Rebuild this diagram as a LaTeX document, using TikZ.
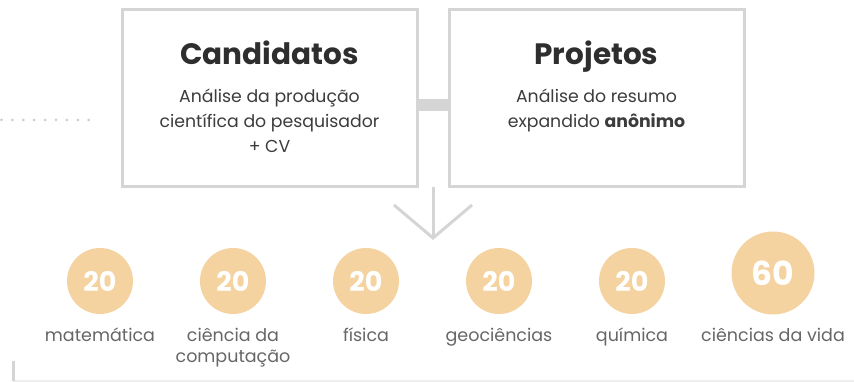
\documentclass[tikz,border=0pt]{standalone}
\usepackage{fontspec}
\setmainfont{Poppins}
\definecolor{linegray}{HTML}{D5D5D5}
\definecolor{dotgray}{HTML}{CCCCCC}
\definecolor{peach}{HTML}{F5D3A0}
\definecolor{titlecol}{HTML}{2E2E2E}
\definecolor{bodycol}{HTML}{3C3C3C}
\definecolor{labelcol}{HTML}{666666}
\definecolor{faint}{HTML}{EEEEEE}
\begin{document}
\begin{tikzpicture}[x=1pt,y=-1pt,
  panel/.style={draw=linegray,line width=3pt,fill=white,minimum width=295pt,minimum height=177pt,inner sep=0pt},
  ttl/.style={font=\fontsize{29.5}{32}\selectfont\bfseries,text=titlecol,inner sep=0pt,anchor=base},
  bodytxt/.style={font=\fontsize{17.3}{25}\selectfont,text=bodycol,align=center,inner sep=0pt,anchor=north},
  num/.style={circle,fill=peach,minimum size=66pt,inner sep=0pt,text=white,font=\fontsize{27}{28}\selectfont\bfseries},
  bignum/.style={circle,fill=peach,minimum size=83pt,inner sep=0pt,text=white,font=\fontsize{33}{34}\selectfont\bfseries},
  lbl/.style={font=\fontsize{17.5}{21.5}\selectfont,text=labelcol,align=center,inner sep=0pt,anchor=north},
  conn/.style={draw=linegray,line width=3pt},
  dot/.style={circle,fill=dotgray,minimum size=3pt,inner sep=0pt}
]
\useasboundingbox (0,0) rectangle (854,382);
% dotted lead-in
\foreach \i in {0,...,8} {
  \node[dot] (d\i) at ({1.5+10.9*\i},120) {};
}
% panels
\node[panel] (cand) at (269.5,98.5) {};
\node[panel] (proj) at (596.5,98.5) {};
% connector bar
\fill[linegray] (cand.east |- 0,99) rectangle (proj.west |- 0,111);
% titles and texts
\node[ttl] (t1) at (269.5,65) {Candidatos};
\node[bodytxt] (b1) at (269.5,89) {Análise da produção\\científica do pesquisador\\+ CV};
\node[ttl] (t2) at (596.5,65) {Projetos};
\node[bodytxt] (b2) at (596.5,89) {Análise do resumo\\expandido \textbf{anônimo}};
% arrow
\coordinate (apex) at (433,238);
\coordinate (vl) at (394,205);
\coordinate (vr) at (472,205);
\draw[conn] (433,187) -- (apex);
\draw[conn,line join=miter] (vl) -- (apex) -- (vr);
% circles
\node[num] (c1) at (100,281) {20};
\node[num] (c2) at (233,281) {20};
\node[num] (c3) at (366,281) {20};
\node[num] (c4) at (499,281) {20};
\node[num] (c5) at (632,281) {20};
\node[bignum] (c6) at (773,273) {60};
% labels
\node[lbl] (l1) at (100,327.5) {matemática};
\node[lbl] (l2) at (233,327.5) {ciência da\\computação};
\node[lbl] (l3) at (366,327.5) {física};
\node[lbl] (l4) at (499,327.5) {geociências};
\node[lbl] (l5) at (632,327.5) {química};
\node[lbl] (l6) at (773,327.5) {ciências da vida};
% bottom frame
\coordinate (bl) at (13,381);
\coordinate (br) at (854,381);
\coordinate (bt) at (13,361);
\draw[faint,line width=1.5pt] (bl) -- (br);
\draw[draw=linegray,line width=3pt] (bt) -- (bl);
\end{tikzpicture}
\end{document}
